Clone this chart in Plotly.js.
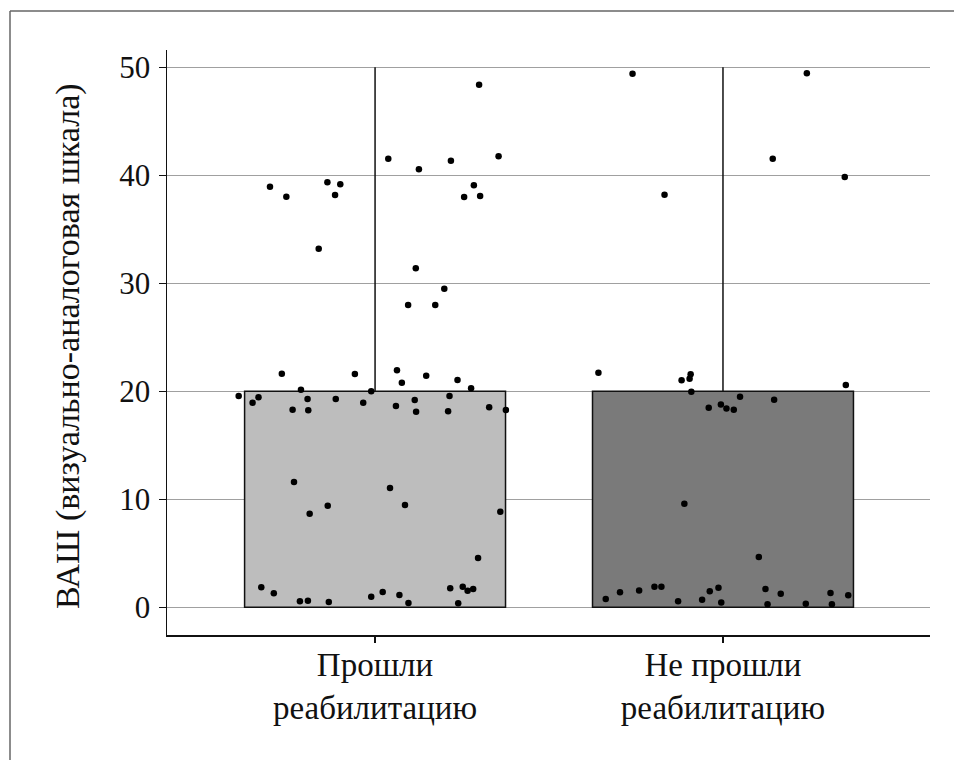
<!DOCTYPE html>
<html>
<head>
<meta charset="utf-8">
<script src="https://cdn.plot.ly/plotly-3.0.1.min.js"></script>
<style>html,body{margin:0;padding:0;background:#fff;}#chart{width:954px;height:760px;}</style>
</head>
<body>
<div id="chart"></div>
<script>
// Categories and tick labels
const categories = [0, 1];
const tickLabels = ["Прошли<br>реабилитацию", "Не прошли<br>реабилитацию"];
const yTicks = [0, 10, 20, 30, 40, 50];

// Bar means and upper error
const barMeans = [20, 20];
const errUpper = [30, 30];
const barColors = ["#bdbdbd", "#7a7a7a"];

// Individual observations (value) and horizontal jitter (offset from category)
const leftY = [38.94, 38.02, 39.35, 39.17, 38.18, 33.2, 41.54, 40.55, 41.35, 41.76, 48.39, 39.07, 37.99, 38.08, 31.39, 29.5, 27.99, 27.99,
  21.63, 21.6, 21.94, 20.8, 21.45, 21.05, 20.28, 20.15, 20.0,
  19.56, 18.95, 19.44, 18.3, 19.29, 18.24, 19.29, 18.95, 18.64, 19.2, 18.11, 19.56, 18.15, 18.52, 18.27,
  11.6, 11.05, 9.41, 9.47, 8.67, 8.85, 4.56,
  1.85, 1.3, 0.56, 0.61, 0.49, 0.98, 1.42, 1.14, 0.4, 1.76, 1.91, 1.54, 1.69, 0.37];
const leftJ = [-0.302, -0.255, -0.137, -0.100, -0.115, -0.162, 0.038, 0.126, 0.218, 0.355, 0.299, 0.284, 0.256, 0.302, 0.117, 0.199, 0.095, 0.173,
  -0.268, -0.058, 0.063, 0.077, 0.147, 0.237, 0.276, -0.213, -0.011,
  -0.392, -0.352, -0.335, -0.237, -0.194, -0.192, -0.113, -0.034, 0.060, 0.114, 0.118, 0.214, 0.210, 0.328, 0.376,
  -0.233, 0.043, -0.136, 0.086, -0.188, 0.360, 0.296,
  -0.327, -0.291, -0.216, -0.193, -0.133, -0.011, 0.022, 0.070, 0.096, 0.216, 0.252, 0.266, 0.282, 0.239];
const rightY = [49.41, 49.44, 38.2, 41.54, 39.84,
  21.72, 21.02, 21.17, 21.57, 19.96, 20.58, 19.5, 19.22, 18.48, 18.79, 18.42, 18.3,
  9.59, 4.66,
  0.77, 1.39, 1.57, 1.91, 1.91, 0.56, 0.7, 1.48, 1.81, 0.46, 1.69, 0.28, 1.26, 0.33, 1.32, 0.28, 1.11];
const rightJ = [-0.260, 0.241, -0.168, 0.143, 0.350,
  -0.358, -0.119, -0.096, -0.093, -0.091, 0.353, 0.049, 0.147, -0.041, -0.006, 0.010, 0.031,
  -0.111, 0.103,
  -0.337, -0.296, -0.241, -0.197, -0.177, -0.129, -0.060, -0.038, -0.013, -0.005, 0.122, 0.128, 0.166, 0.238, 0.309, 0.313, 0.360];

const yTitle = "ВАШ (визуально-аналоговая шкала)";

const FONT = "Liberation Serif, Times New Roman, serif";
const W = 954, H = 760, L = 167, R = 24, T = 50, B = 125;
const pw = W - L - R, ph = H - T - B;
const px = x => (x - L) / pw;
const py = y => (H - B - y) / ph;

const barTrace = {
  type: "bar",
  x: categories,
  y: barMeans,
  width: 0.75,
  marker: {color: barColors, line: {color: "#111", width: 1.5}},
  error_y: {type: "data", symmetric: false, array: errUpper, arrayminus: [0, 0], color: "#111", thickness: 1.5, width: 0},
  hoverinfo: "skip",
  showlegend: false
};

const ptsTrace = {
  type: "scatter",
  mode: "markers",
  x: leftJ.map(j => categories[0] + j).concat(rightJ.map(j => categories[1] + j)),
  y: leftY.concat(rightY),
  marker: {color: "#000", size: 6.5},
  cliponaxis: false,
  showlegend: false
};

const layout = {
  width: W, height: H,
  margin: {l: L, r: R, t: T, b: B, pad: 0},
  paper_bgcolor: "#fff",
  plot_bgcolor: "#fff",
  font: {family: FONT, color: "#111", size: 30},
  showlegend: false,
  xaxis: {
    range: [-0.598, 1.595],
    tickvals: categories,
    ticktext: tickLabels,
    ticks: "outside", ticklen: 6, tickwidth: 1.5, tickcolor: "#111",
    showline: true, linecolor: "#111", linewidth: 1.5,
    showgrid: false, zeroline: false,
    tickfont: {family: FONT, size: 33, color: "#111"},
    ticklabelstandoff: -6,
    fixedrange: true
  },
  yaxis: {
    range: [-2.56, 51.6],
    tickvals: yTicks,
    ticks: "outside", ticklen: 7, tickwidth: 1.5, tickcolor: "#111",
    showline: true, linecolor: "#111", linewidth: 1.5,
    showgrid: true, gridcolor: "#a0a0a0", gridwidth: 1.2,
    zeroline: false,
    tickfont: {family: FONT, size: 31, color: "#111"},
    ticklabelstandoff: 2,
    automargin: false,
    fixedrange: true
  },
  annotations: [
    {text: yTitle, xref: "paper", yref: "paper", x: px(68), y: py(346), xanchor: "center", yanchor: "middle",
     textangle: -90, showarrow: false, font: {family: FONT, size: 34, color: "#111"}}
  ],
  shapes: [
    {type: "line", xref: "paper", yref: "paper", x0: px(10), x1: px(W + 5), y0: py(11), y1: py(11), line: {color: "#666", width: 1.5}},
    {type: "line", xref: "paper", yref: "paper", x0: px(10), x1: px(10), y0: py(11), y1: py(H + 5), line: {color: "#666", width: 1.5}}
  ]
};

Plotly.newPlot("chart", [barTrace, ptsTrace], layout, {displayModeBar: false, staticPlot: true});
</script>
</body>
</html>
